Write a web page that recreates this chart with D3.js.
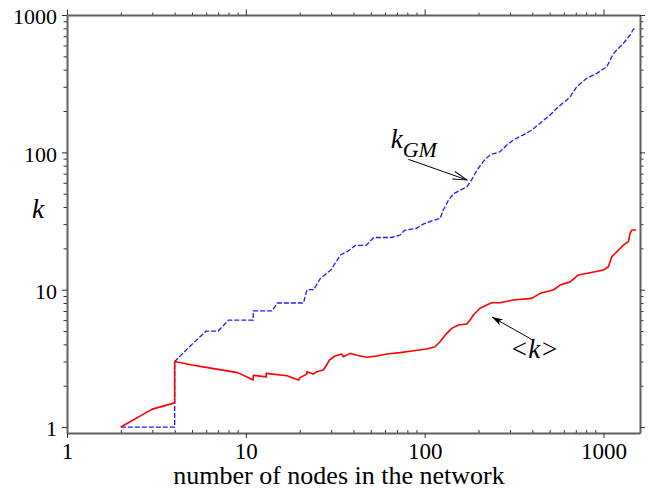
<!DOCTYPE html>
<html>
<head>
<meta charset="utf-8">
<script src="https://cdn.jsdelivr.net/npm/d3@7/dist/d3.min.js"></script>
<style>
  html, body { margin: 0; padding: 0; background: #fff; }
  svg { display: block; }
</style>
</head>
<body>
<svg id="chart" width="657" height="489"></svg>
<script>
// Network size (number of nodes) and geometric-mean degree k_GM
const nodesGM = [2, 3, 4, 4, 5, 6, 7, 8, 11, 11, 14, 15, 21, 22, 24, 25, 26, 28, 30, 31, 32, 34, 37, 41, 47, 52, 65, 73, 77, 90, 98, 112, 122, 127, 136, 145, 158, 172, 183, 196, 213, 232, 264, 288, 313, 356, 397, 442, 503, 560, 623, 651, 709, 807, 918, 1043, 1113, 1161, 1292, 1409, 1470, 1503];
const kGM     = [1, 1, 1, 3, 4, 5, 5, 6, 6, 7, 7, 8, 8, 10, 10, 11, 12, 13, 14, 15, 16, 18, 19, 21, 21, 24, 24, 25, 27, 28, 30, 32, 33, 38, 45, 50, 53, 56, 63, 74, 86, 96, 101, 113, 123, 134, 145, 163, 187, 215, 240, 254, 301, 346, 376, 420, 497, 540, 622, 715, 787, 795];

// Network size and mean degree <k>
const nodesAvg = [2, 3, 4, 4, 5, 6, 7, 9, 11, 11, 13, 13, 17, 19.7, 20.1, 21.9, 22, 23.8, 24.9, 27.1, 28.3, 29.3, 31.5, 34.4, 35.1, 38.3, 41.7, 47.5, 54, 61.4, 72.8, 86.5, 102.7, 114.3, 121.9, 132.9, 141.8, 154.3, 172, 179.5, 187.3, 204, 222.5, 237.3, 264, 313, 397, 442, 524, 572, 651, 724, 841, 999, 1065, 1113, 1187, 1292, 1378, 1409, 1440, 1521];
const kAvg     = [1, 1.35, 1.5, 3.0, 2.83, 2.72, 2.63, 2.49, 2.2, 2.38, 2.32, 2.46, 2.36, 2.2, 2.29, 2.43, 2.53, 2.43, 2.53, 2.6, 2.83, 3.07, 3.29, 3.40, 3.25, 3.44, 3.33, 3.22, 3.29, 3.40, 3.48, 3.59, 3.70, 3.84, 4.18, 4.81, 5.23, 5.53, 5.62, 6.02, 6.54, 7.32, 7.73, 8.04, 8.04, 8.41, 8.65, 9.41, 9.95, 10.8, 11.4, 12.8, 13.3, 13.9, 14.7, 17.4, 18.9, 21.1, 22.4, 25.7, 27.2, 27.2];

// Axis ticks
const xMajorTicks = [1, 10, 100, 1000];
const xTickLabels = ["1", "10", "100", "1000"];
const xMinorTicks = [2, 3, 4, 5, 6, 7, 8, 9, 20, 30, 40, 50, 60, 70, 80, 90, 200, 300, 400, 500, 600, 700, 800, 900];
const yMajorTicks = [1, 10, 100, 1000];
const yTickLabels = ["1", "10", "100", "1000"];
const yMinorTicks = [2, 3, 4, 5, 6, 7, 8, 9, 20, 30, 40, 50, 60, 70, 80, 90, 200, 300, 400, 500, 600, 700, 800, 900];

// Annotation arrows: [tail, tip] in data coordinates
const gmArrow  = [[81, 89], [172, 63]];
const avgArrow = [[394, 4.37], [238, 6.32]];

const serif = "'Liberation Serif', 'Times New Roman', Times, serif";

const svg = d3.select("#chart");
svg.append("rect").attr("width", 657).attr("height", 489).attr("fill", "#fff");

const x = d3.scaleLog().domain([1, 1600]).range([67, 640]);
const y = d3.scaleLog().domain([0.905, 1000]).range([433, 15]);

const axisColor = "#606060";
const tickColor = "#303030";

function styleAxis(g, keepDomain) {
  g.attr("font-family", serif);
  g.selectAll(".tick line").attr("stroke", tickColor).attr("stroke-width", 1);
  if (keepDomain) g.select(".domain").attr("stroke", axisColor).attr("stroke-width", 2);
  else g.select(".domain").remove();
}

// Minor ticks
svg.append("g").attr("transform", "translate(0,433)")
  .call(d3.axisBottom(x).tickValues(xMinorTicks).tickSize(-3).tickFormat(""))
  .call(g => styleAxis(g, false));
svg.append("g").attr("transform", "translate(0,15)")
  .call(d3.axisTop(x).tickValues(xMinorTicks).tickSize(2.5).tickFormat(""))
  .call(g => styleAxis(g, false));
svg.append("g").attr("transform", "translate(67,0)")
  .call(d3.axisLeft(y).tickValues(yMinorTicks).tickSize(3.5).tickFormat(""))
  .call(g => styleAxis(g, false));
svg.append("g").attr("transform", "translate(640,0)")
  .call(d3.axisRight(y).tickValues(yMinorTicks).tickSize(3.5).tickFormat(""))
  .call(g => styleAxis(g, false));

// Major ticks, frame and labels
const gBottom = svg.append("g").attr("transform", "translate(0,433)")
  .call(d3.axisBottom(x).tickValues(xMajorTicks).tickSize(5).tickSizeOuter(0)
    .tickFormat((d, i) => xTickLabels[i]))
  .call(g => styleAxis(g, true));
gBottom.selectAll(".tick text")
  .attr("y", 26).attr("dy", null)
  .style("font-family", serif)
  .style("font-size", "23px").attr("fill", "#000");

svg.append("g").attr("transform", "translate(0,15)")
  .call(d3.axisTop(x).tickValues(xMajorTicks).tickSize(5.5).tickSizeOuter(0).tickFormat(""))
  .call(g => styleAxis(g, true));

const gLeft = svg.append("g").attr("transform", "translate(67,0)")
  .call(d3.axisLeft(y).tickValues(yMajorTicks).tickSize(5).tickSizeOuter(0)
    .tickPadding(5).tickFormat((d, i) => yTickLabels[i]))
  .call(g => styleAxis(g, true));
gLeft.selectAll(".tick text")
  .attr("dy", "0.4em")
  .style("font-family", serif)
  .style("font-size", "22px").attr("fill", "#000");

svg.append("g").attr("transform", "translate(640,0)")
  .call(d3.axisRight(y).tickValues(yMajorTicks).tickSize(5).tickSizeOuter(0).tickFormat(""))
  .call(g => styleAxis(g, true));

// Series
const line = d3.line().x(d => x(d[0])).y(d => y(d[1]));
const gmData = nodesGM.map((n, i) => [n, kGM[i]]);
const avgData = nodesAvg.map((n, i) => [n, kAvg[i]]);

svg.append("path").datum(gmData)
  .attr("d", line)
  .attr("fill", "none")
  .attr("stroke", "#1a1aff")
  .attr("stroke-width", 1.3)
  .attr("stroke-dasharray", "5,2");

svg.append("path").datum(avgData)
  .attr("d", line)
  .attr("fill", "none")
  .attr("stroke", "#ff0000")
  .attr("stroke-width", 1.6)
  .attr("stroke-linejoin", "round");

// Arrowheads
const defs = svg.append("defs");
defs.append("marker")
  .attr("id", "openHead")
  .attr("markerUnits", "userSpaceOnUse")
  .attr("viewBox", "-16 -6 18 12")
  .attr("refX", 0).attr("refY", 0)
  .attr("markerWidth", 18).attr("markerHeight", 12)
  .attr("orient", "auto")
  .append("path")
  .attr("d", "M-14,-4 L0,0 L-14,4")
  .attr("fill", "none").attr("stroke", "#000").attr("stroke-width", 1);
defs.append("marker")
  .attr("id", "solidHead")
  .attr("markerUnits", "userSpaceOnUse")
  .attr("viewBox", "-14 -6 16 12")
  .attr("refX", 0).attr("refY", 0)
  .attr("markerWidth", 16).attr("markerHeight", 12)
  .attr("orient", "auto")
  .append("path")
  .attr("d", "M-11,-3.5 L0,0 L-11,3.5 L-8,0 Z")
  .attr("fill", "#000");

svg.append("line")
  .attr("x1", x(gmArrow[0][0])).attr("y1", y(gmArrow[0][1]))
  .attr("x2", x(gmArrow[1][0])).attr("y2", y(gmArrow[1][1]))
  .attr("stroke", "#000").attr("stroke-width", 1)
  .attr("marker-end", "url(#openHead)");
svg.append("line")
  .attr("x1", x(avgArrow[0][0])).attr("y1", y(avgArrow[0][1]))
  .attr("x2", x(avgArrow[1][0])).attr("y2", y(avgArrow[1][1]))
  .attr("stroke", "#000").attr("stroke-width", 1)
  .attr("marker-end", "url(#solidHead)");

// Annotation labels
const gmLabel = svg.append("text")
  .attr("x", x(64.6)).attr("y", y(107.5))
  .style("font-family", serif)
  .style("font-size", "27px").style("font-style", "italic");
gmLabel.append("tspan").text("k");
gmLabel.append("tspan").attr("dy", 9).style("font-size", "22px").text("GM");

svg.append("text")
  .attr("x", x(300)).attr("y", y(3.18))
  .style("font-family", serif)
  .style("font-size", "27px").style("font-style", "italic")
  .text("<k>");

// Axis titles
svg.append("text")
  .attr("x", 339).attr("y", 483.5)
  .attr("text-anchor", "middle")
  .style("font-family", serif)
  .style("font-size", "26px")
  .text("number of nodes in the network");

svg.append("text")
  .attr("x", 38).attr("y", 218)
  .attr("text-anchor", "middle")
  .style("font-family", serif)
  .style("font-size", "27px").style("font-style", "italic")
  .text("k");
</script>
</body>
</html>
